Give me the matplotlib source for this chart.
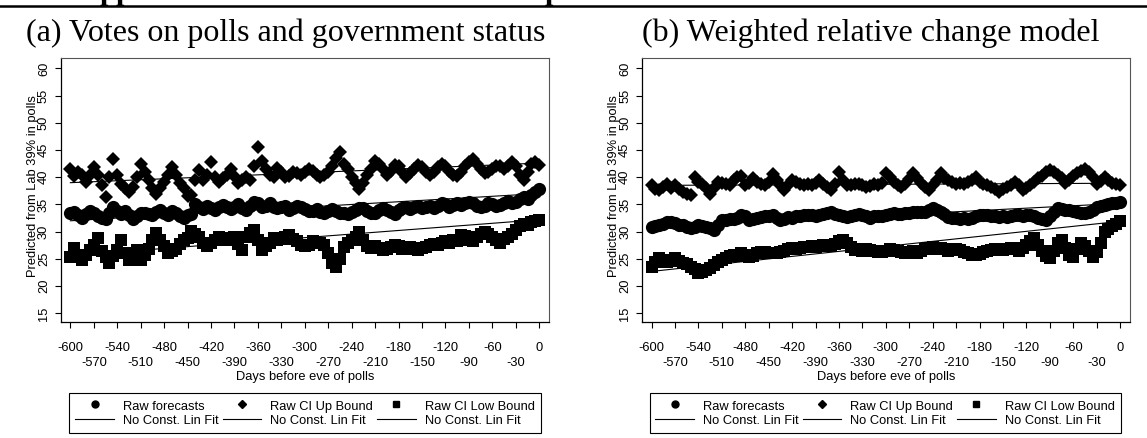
import numpy as np
import matplotlib.pyplot as plt
from matplotlib.lines import Line2D

plt.rcParams['font.family'] = ['Liberation Sans', 'DejaVu Sans']

# days before eve of polls, one reading every 5 days
days = np.arange(-600, 1, 5)

# (a) Votes on polls and government status
a_forecast = [
    33.4, 33.6, 33.0, 32.6, 33.2, 33.8, 33.5, 32.9, 32.5, 32.3,
    33.5, 34.5, 33.8, 33.2, 33.8, 33.0, 32.4, 32.8, 33.5, 33.5,
    33.2, 33.0, 33.6, 34.0, 33.5, 33.0, 33.8, 33.5, 32.8, 32.5,
    33.0, 33.2, 35.0, 34.5, 34.2, 34.8, 34.3, 34.0, 34.6, 34.9,
    34.5, 34.2, 34.6, 35.0, 34.4, 34.0, 34.8, 35.4, 35.2, 34.6,
    34.8, 35.2, 34.6, 34.3, 34.6, 34.8, 34.0, 34.4, 34.8, 34.5,
    34.2, 33.8, 33.8, 34.2, 33.6, 33.4, 33.8, 34.2, 33.8, 33.4,
    33.5, 33.3, 33.6, 34.0, 34.4, 34.3, 33.8, 33.4, 33.4, 34.0,
    34.3, 34.0, 33.6, 33.2, 34.0, 34.3, 34.5, 34.2, 34.6, 34.8,
    34.4, 34.6, 34.8, 34.4, 34.8, 35.2, 35.0, 34.6, 34.9, 35.3,
    34.9, 35.2, 35.4, 35.2, 34.8, 34.6, 34.8, 35.2, 35.0, 34.7,
    34.9, 35.3, 35.6, 35.2, 35.5, 36.0, 36.4, 36.0, 36.8, 37.3,
    37.8]
a_ci_up = [
    41.5, 40.2, 41.0, 40.5, 39.2, 40.5, 41.8, 40.5, 38.5, 36.4,
    40.0, 43.4, 40.5, 38.8, 38.0, 37.3, 38.2, 40.0, 42.5, 41.0,
    39.5, 38.0, 37.0, 38.0, 39.2, 40.5, 41.9, 40.5, 39.0, 38.0,
    36.5, 36.8, 39.5, 41.4, 39.5, 40.5, 42.8, 40.0, 39.1, 39.8,
    40.5, 41.5, 40.2, 39.0, 39.5, 40.0, 39.5, 42.0, 45.5, 43.0,
    41.5, 40.5, 40.0, 41.7, 41.0, 40.0, 40.3, 41.0, 40.8, 40.5,
    41.0, 41.5, 41.2, 40.5, 40.0, 40.5, 41.0, 42.0, 43.5, 44.6,
    42.5, 41.5, 40.0, 39.0, 37.9, 39.0, 40.5, 41.5, 43.0, 42.5,
    41.5, 40.5, 41.2, 42.3, 42.0, 41.0, 40.0, 40.8, 41.5, 42.3,
    41.8, 41.0, 40.5, 41.0, 41.8, 42.5, 42.0, 41.2, 40.5, 40.3,
    41.0, 42.0, 42.8, 43.4, 42.5, 41.5, 40.8, 41.0, 41.5, 42.0,
    42.0, 41.5, 42.0, 42.8, 42.0, 40.5, 39.5, 41.0, 42.5, 42.8,
    42.2]
a_ci_low = [
    25.4, 27.0, 25.5, 24.8, 25.8, 26.6, 27.5, 28.8, 26.5, 25.4,
    24.2, 25.5, 26.6, 28.5, 26.0, 24.8, 25.8, 26.6, 24.8, 25.8,
    26.8, 28.5, 29.7, 28.5, 27.3, 26.0, 26.4, 26.9, 27.8, 28.5,
    28.8, 30.2, 29.6, 29.1, 28.0, 27.3, 28.0, 28.5, 29.1, 28.8,
    28.5, 28.8, 29.1, 27.8, 26.6, 29.1, 29.8, 30.3, 28.5, 26.6,
    27.3, 28.0, 28.8, 28.5, 28.6, 29.0, 29.4, 28.6, 28.2, 27.6,
    27.3, 27.6, 28.2, 28.0, 27.9, 27.5, 26.0, 24.2, 23.5, 25.0,
    27.2, 27.9, 28.5, 29.1, 30.0, 28.5, 27.3, 27.0, 27.3, 27.0,
    26.6, 26.8, 27.2, 27.6, 27.3, 26.8, 27.0, 27.2, 26.8, 26.6,
    27.0, 27.2, 27.5, 27.8, 27.6, 27.9, 28.2, 28.0, 28.5, 28.3,
    29.4, 29.2, 28.5, 28.2, 29.0, 29.5, 30.0, 29.6, 29.1, 28.4,
    27.9, 28.6, 29.1, 29.6, 30.3, 31.0, 31.5, 31.2, 31.8, 32.0,
    32.1]

# (b) Weighted relative change model
b_forecast = [
    30.9, 31.0, 31.2, 31.4, 31.8, 31.8, 31.6, 31.2, 31.2, 30.9,
    30.6, 30.9, 31.2, 31.0, 30.8, 30.6, 30.3, 31.2, 32.1, 32.2,
    32.4, 32.3, 32.6, 33.0, 32.8, 32.1, 32.3, 32.5, 32.7, 32.8,
    32.9, 33.0, 32.5, 32.1, 32.3, 32.7, 32.6, 32.8, 32.9, 33.0,
    33.0, 33.0, 32.8, 33.0, 33.2, 33.4, 33.6, 33.2, 33.0, 32.8,
    32.7, 32.8, 33.0, 33.2, 33.0, 32.8, 32.6, 32.8, 32.8, 32.9,
    33.0, 33.2, 33.4, 33.2, 33.3, 33.5, 33.4, 33.6, 33.7, 33.6,
    33.7, 34.0, 34.3, 34.0, 33.6, 33.2, 32.7, 32.6, 32.5, 32.4,
    32.5, 32.4, 32.6, 32.8, 33.0, 33.1, 33.0, 32.9, 32.8, 32.7,
    32.8, 32.7, 32.9, 33.0, 33.1, 32.9, 33.1, 33.0, 32.8, 32.5,
    32.3, 32.1, 32.8, 33.6, 34.3, 34.1, 34.0, 34.0, 33.8, 33.6,
    33.5, 33.4, 33.6, 34.0, 34.6, 34.8, 34.9, 35.0, 35.2, 35.3,
    35.5]
b_ci_up = [
    38.5, 37.8, 37.6, 38.2, 38.8, 38.0, 38.5, 37.8, 37.3, 37.0,
    36.7, 40.0, 39.2, 38.8, 38.0, 37.0, 38.0, 39.2, 39.0, 38.8,
    38.5, 39.5, 40.0, 40.3, 38.5, 39.0, 39.8, 39.2, 38.8, 38.5,
    39.2, 40.6, 39.5, 38.5, 37.6, 38.5, 39.5, 39.2, 38.8, 38.6,
    38.8, 38.5, 39.0, 39.5, 38.8, 38.2, 37.6, 38.8, 41.0, 39.5,
    38.5, 38.6, 38.8, 38.8, 38.5, 38.2, 38.4, 38.8, 38.6, 39.0,
    40.7, 40.0, 39.2, 38.5, 38.2, 38.8, 39.6, 40.7, 39.8, 39.0,
    38.2, 37.6, 38.5, 39.5, 40.7, 39.8, 39.5, 39.2, 38.8, 39.0,
    38.8, 39.2, 39.5, 40.1, 39.2, 38.8, 38.5, 38.2, 37.8, 37.3,
    37.8, 38.2, 38.6, 39.1, 38.5, 37.6, 38.0, 38.5, 39.2, 39.8,
    40.3, 41.0, 41.3, 41.0, 40.5, 39.8, 39.0, 39.5, 40.2, 40.8,
    41.2, 41.6, 41.0, 40.0, 38.8, 39.4, 40.0, 39.5, 39.0, 38.8,
    38.5]
b_ci_low = [
    23.6, 24.5, 25.1, 24.8, 24.5, 24.8, 25.1, 24.6, 24.2, 24.0,
    23.6, 23.2, 22.4, 22.6, 23.0, 23.4, 23.9, 24.4, 24.8, 25.2,
    25.5, 25.7, 25.5, 26.0, 25.8, 25.4, 25.6, 26.0, 26.3, 26.2,
    26.0, 26.1, 26.0, 26.3, 26.5, 26.8, 27.0, 26.9, 27.0, 27.1,
    27.2, 27.3, 27.2, 27.4, 27.5, 27.6, 27.4, 27.8, 28.3, 28.5,
    27.9, 27.2, 26.6, 26.8, 26.5, 26.8, 26.6, 26.4, 26.2, 26.3,
    26.5, 26.8, 26.6, 26.4, 26.2, 26.0, 26.2, 26.4, 26.1, 26.5,
    26.8, 27.0, 27.2, 26.9, 27.0, 26.8, 26.5, 26.6, 26.8, 26.6,
    26.3, 26.0, 25.8, 25.7, 25.9, 26.2, 26.4, 26.6, 26.8, 26.7,
    26.6, 26.8, 27.0, 26.8, 26.5, 27.0, 27.5, 28.3, 28.8, 27.5,
    26.5, 25.5, 25.1, 26.5, 28.0, 28.5, 27.0, 25.8, 25.4, 26.8,
    27.9, 27.4, 26.5, 25.4, 26.2, 28.0, 30.0, 30.5, 31.0, 31.5,
    32.0]

# "No Const. Lin Fit" lines: fitted value at first and last day
fit_days = [-600, 0]
a_fit_forecast = [32.0, 37.0]
a_fit_up = [39.0, 42.6]
a_fit_low = [25.6, 32.2]
b_fit_forecast = [30.8, 35.2]
b_fit_up = [38.5, 38.9]
b_fit_low = [22.7, 31.9]

legend_labels = ['Raw forecasts', 'No Const. Lin Fit', 'Raw CI Up Bound',
                 'No Const. Lin Fit', 'Raw CI Low Bound', 'No Const. Lin Fit']
x_ticks_top_row = np.arange(-600, 1, 60)
x_ticks_low_row = np.arange(-570, 0, 60)
y_ticks = np.arange(15, 61, 5)

W, H = 1147, 438
TICK_FS = 9.3


def drawPanel(ax, forecast, ciUp, ciLow, fits, title, titleX, legendX):
    ax.plot(days, forecast, ls='none', marker='o', ms=9.5, color='black', mew=0)
    ax.plot(days, ciUp, ls='none', marker='D', ms=7.6, color='black', mew=0)
    ax.plot(days, ciLow, ls='none', marker='s', ms=8.6, color='black', mew=0)
    for fit in fits:
        ax.plot(fit_days, fit, color='black', lw=0.8)

    ax.set_xlim(-612, 12)
    ax.set_ylim(13.35, 61.85)
    # Stata style alternating tick labels: two rows
    ax.set_xticks(x_ticks_top_row)
    ax.set_xticklabels([str(t) for t in x_ticks_top_row])
    ax.set_xticks(x_ticks_low_row, minor=True)
    ax.set_xticklabels([str(t) for t in x_ticks_low_row], minor=True)
    ax.set_yticks(y_ticks)
    ax.tick_params(axis='x', which='major', direction='out', length=4.5, width=0.8, pad=9.5,
                   labelsize=TICK_FS)
    ax.tick_params(axis='x', which='minor', direction='out', length=4.5, width=0.8, pad=20.5,
                   labelsize=TICK_FS)
    ax.tick_params(axis='y', direction='out', length=4.5, width=0.8, pad=3.5, labelsize=TICK_FS,
                   labelrotation=90)
    for lbl in ax.get_yticklabels():
        lbl.set_va('center')
    ax.set_xlabel('Days before eve of polls', fontsize=TICK_FS)
    ax.xaxis.set_label_coords(0.5, (322.3 - 371) / 264)
    ax.set_ylabel('Predicted from Lab 39% in polls', fontsize=TICK_FS)
    ax.yaxis.set_label_coords(-0.046, 0.515)
    for side in ['left', 'bottom']:
        ax.spines[side].set_linewidth(0.9)
        ax.spines[side].set_color('black')
    for side in ['top', 'right']:
        ax.spines[side].set_linewidth(0.8)
        ax.spines[side].set_color('#555555')

    handles = [
        Line2D([], [], ls='none', marker='o', ms=5, color='black'),
        Line2D([], [], color='black', lw=0.8),
        Line2D([], [], ls='none', marker='D', ms=4.2, color='black'),
        Line2D([], [], color='black', lw=0.8),
        Line2D([], [], ls='none', marker='s', ms=4.6, color='black'),
        Line2D([], [], color='black', lw=0.8),
    ]
    leg = ax.legend(handles, legend_labels, ncol=3, loc='upper center',
                    bbox_to_anchor=(legendX / W, 1 - 393 / H), bbox_transform=ax.figure.transFigure,
                    fontsize=TICK_FS, frameon=True, fancybox=False, edgecolor='black',
                    framealpha=1, handlelength=3.0, handleheight=1.2, handletextpad=0.7,
                    columnspacing=0.3, labelspacing=0.05, borderpad=0.45, borderaxespad=0)
    leg.get_frame().set_linewidth(0.8)

    ax.figure.text(titleX / W, 1 - 33 / H, title, ha='center', va='center', fontsize=23,
                   family=['Liberation Serif', 'DejaVu Serif'])


fig = plt.figure(figsize=(W / 100, H / 100), dpi=100)
axA = fig.add_axes([61 / W, (H - 322.3) / H, 487.6 / W, 264 / H])
axB = fig.add_axes([642.2 / W, (H - 322.3) / H, 487.3 / W, 264 / H])

drawPanel(axA, a_forecast, a_ci_up, a_ci_low, [a_fit_forecast, a_fit_up, a_fit_low],
          '(a) Votes on polls and government status', 286, 305)
drawPanel(axB, b_forecast, b_ci_up, b_ci_low, [b_fit_forecast, b_fit_up, b_fit_low],
          '(b) Weighted relative change model', 871, 885)

# rule and clipped heading from the page above the figure
fig.add_artist(Line2D([0, 1], [1 - 6 / H, 1 - 6 / H], color='black', lw=1.8,
                      transform=fig.transFigure))
for txt, xp in [('pp', 100), ('p', 545)]:
    fig.text(xp / W, 1 + 0.5 / H, txt, ha='left', va='baseline', fontsize=22, fontweight='bold',
             family=['Liberation Serif', 'DejaVu Serif'])

fig.savefig('out.png', dpi=100)
